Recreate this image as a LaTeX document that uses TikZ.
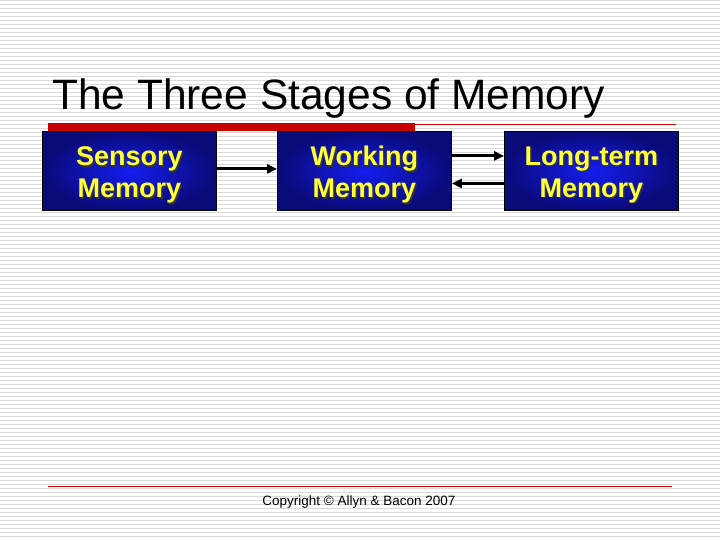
\documentclass[tikz,border=0pt]{standalone}
\usepackage{fontspec}
\setmainfont{Liberation Sans}
\usetikzlibrary{arrows.meta}
\definecolor{boxyel}{RGB}{255,255,60}
\definecolor{boxin}{RGB}{20,30,240}
\definecolor{boxout}{RGB}{10,10,120}
\definecolor{redbar}{RGB}{200,0,0}
\tikzset{
  memsty/.style={draw=black, line width=0.8pt, shading=radial, inner color=boxin, outer color=boxout, minimum width=174pt, minimum height=79pt, anchor=north west},
  memtxt/.style={text=boxyel, font=\fontsize{27}{32}\selectfont\bfseries, align=center},
  shtxt/.style={text=black!80, font=\fontsize{27}{32}\selectfont\bfseries, align=center},
  arr/.style={-{Triangle[length=10pt,width=9pt]}, line width=3pt}
}
\begin{document}
\begin{tikzpicture}[x=1pt,y=-1pt]
\useasboundingbox (0,0) rectangle (720,540);
\fill[white] (0,0) rectangle (720,540);
\foreach \i in {0,4,...,540} \draw[black!15, line width=0.8pt] (0,\i) -- (720,\i);
\node[anchor=base west, font=\fontsize{42.5}{48}\selectfont, inner sep=0] (title) at (52,110) {The Three Stages of Memory};
\fill[redbar] (48,123) rectangle (415,131);
\draw[redbar, line width=0.6pt] (415,124) -- (676,124);
\node[memsty] (s) at (42,131) {};
\node[memsty] (w) at (277,131) {};
\node[memsty] (l) at (504,131) {};
\foreach \n/\t in {s/{Sensory\\Memory}, w/{Working\\Memory}, l/{Long-term\\Memory}} {
  \node[shtxt] at ([xshift=1.5pt,yshift=-5.5pt]\n.center) {\t};
  \node[memtxt] (\n t) at ([yshift=-4pt]\n.center) {\t};
}
\draw[arr] ([yshift=2pt]s.east) -- ([yshift=2pt]w.west);
\draw[arr] ([yshift=15pt]w.east) -- ([yshift=15pt]l.west);
\draw[arr] ([yshift=-12.5pt]l.west) -- ([yshift=-12.5pt]w.east);
\draw[redbar, line width=0.6pt] (48,486) -- (672,486);
\node[font=\fontsize{13.5}{16}\selectfont] (copy) at (359,502) {Copyright © Allyn \& Bacon 2007};
\end{tikzpicture}
\end{document}
